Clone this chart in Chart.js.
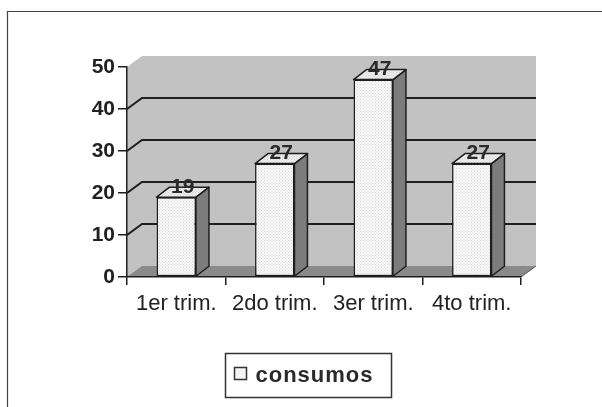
<!DOCTYPE html>
<html>
<head>
<meta charset="utf-8">
<script src="https://cdn.jsdelivr.net/npm/chart.js@4.4.1/dist/chart.umd.min.js"></script>
<style>
  html, body { margin: 0; padding: 0; background: #fff; }
  #wrap { width: 602px; height: 407px; }
</style>
</head>
<body>
<div id="wrap"><canvas id="chart" width="602" height="407"></canvas></div>
<script>
// --- Data ---
const categories = ['1er trim.', '2do trim.', '3er trim.', '4to trim.'];
const consumos = [19, 27, 47, 27];
const seriesName = 'consumos';
const yMin = 0;
const yMax = 50;
const yStep = 10;

// --- 3D look ---
const WALL_DX = 15, WALL_DY = -11;   // depth of back wall
const BAR_DX = 13, BAR_DY = -10;     // depth of each bar
const INK = '#1e1e1e';
const FONT = '"Liberation Sans", Arial, sans-serif';

// dotted fill like the original print
function dotPattern(bg, dot) {
    const c = document.createElement('canvas');
    c.width = 3; c.height = 3;
    const g = c.getContext('2d');
    g.fillStyle = bg;
    g.fillRect(0, 0, 3, 3);
    g.fillStyle = dot;
    g.fillRect(0, 0, 1, 1);
    g.fillRect(1.5, 1.5, 1, 1);
    return g.createPattern(c, 'repeat');
}
const ctxMain = document.getElementById('chart').getContext('2d');
const barFront = dotPattern('#f8f8f8', '#d8d8d8');
const barTop = dotPattern('#eeeeee', '#d0d0d0');

function poly(ctx, pts, fill, stroke, lw) {
    ctx.beginPath();
    ctx.moveTo(pts[0][0], pts[0][1]);
    for (let i = 1; i < pts.length; i++) ctx.lineTo(pts[i][0], pts[i][1]);
    ctx.closePath();
    if (fill) { ctx.fillStyle = fill; ctx.fill(); }
    if (stroke) { ctx.strokeStyle = stroke; ctx.lineWidth = lw || 1; ctx.stroke(); }
}

const walls = {
    id: 'walls',
    beforeDraw(chart) {
        const { ctx, chartArea: a } = chart;
        const y = chart.scales.y;
        const L = a.left, R = a.right, T = a.top, B = a.bottom;

        ctx.save();
        // outer frame of the picture
        ctx.strokeStyle = '#444';
        ctx.lineWidth = 1.2;
        ctx.beginPath();
        ctx.moveTo(7.5, 420);
        ctx.lineTo(7.5, 11.5);
        ctx.lineTo(620, 11.5);
        ctx.stroke();

        // side + back wall
        poly(ctx, [[L, T], [L + WALL_DX, T + WALL_DY], [R + WALL_DX, T + WALL_DY],
                   [R + WALL_DX, B + WALL_DY], [L, B]], '#c2c2c2');
        // floor
        poly(ctx, [[L, B], [L + WALL_DX, B + WALL_DY], [R + WALL_DX, B + WALL_DY], [R, B]], '#8a8a8a');
        ctx.strokeStyle = '#555';
        ctx.lineWidth = 1;
        ctx.beginPath();
        ctx.moveTo(R, B);
        ctx.lineTo(R + WALL_DX, B + WALL_DY);
        ctx.stroke();

        // gridlines on the walls
        ctx.strokeStyle = INK;
        ctx.lineWidth = 2;
        for (let v = yMin + yStep; v < yMax; v += yStep) {
            const py = y.getPixelForValue(v);
            ctx.beginPath();
            ctx.moveTo(L, py);
            ctx.lineTo(L + WALL_DX, py + WALL_DY);
            ctx.lineTo(R + WALL_DX, py + WALL_DY);
            ctx.stroke();
        }
        ctx.restore();
    },
    afterDatasetsDraw(chart) {
        const { ctx } = chart;
        const meta = chart.getDatasetMeta(0);
        ctx.save();
        ctx.lineJoin = 'round';
        meta.data.forEach((bar, i) => {
            const p = bar.getProps(['x', 'y', 'base', 'width'], true);
            const l = p.x - p.width / 2, r = p.x + p.width / 2;
            // right side
            poly(ctx, [[r, p.y], [r + BAR_DX, p.y + BAR_DY], [r + BAR_DX, p.base + BAR_DY], [r, p.base]],
                 '#7c7c7c', INK, 1.5);
            // top
            poly(ctx, [[l, p.y], [l + BAR_DX, p.y + BAR_DY], [r + BAR_DX, p.y + BAR_DY], [r, p.y]],
                 barTop, INK, 1.5);
            // value label
            ctx.fillStyle = '#2a2a2a';
            ctx.font = 'bold 21px ' + FONT;
            ctx.textAlign = 'center';
            ctx.textBaseline = 'middle';
            ctx.fillText(String(chart.data.datasets[0].data[i]), p.x + BAR_DX / 2, p.y - 10);
        });
        ctx.restore();
    },
    afterDraw(chart) {
        // legend box
        const { ctx } = chart;
        const label = chart.data.datasets[0].label;
        ctx.save();
        ctx.font = 'bold 22px ' + FONT;
        ctx.letterSpacing = '1px';
        const tw = ctx.measureText(label).width;
        const boxW = tw + 48, boxH = 44;
        const bx = Math.round(308 - boxW / 2) + 0.5, by = 353.5;
        ctx.strokeStyle = '#333';
        ctx.lineWidth = 1.5;
        ctx.strokeRect(bx, by, boxW, boxH);
        ctx.fillStyle = '#f4f4f4';
        ctx.fillRect(bx + 9, by + 14, 12, 12);
        ctx.strokeRect(bx + 9, by + 14, 12, 12);
        ctx.fillStyle = '#2a2a2a';
        ctx.textBaseline = 'middle';
        ctx.textAlign = 'left';
        ctx.fillText(label, bx + 30, by + 22);
        ctx.restore();
    }
};

new Chart(ctxMain, {
    type: 'bar',
    data: {
        labels: categories,
        datasets: [{
            label: seriesName,
            data: consumos,
            backgroundColor: barFront,
            borderColor: INK,
            borderWidth: 1.5,
            borderSkipped: false,
            barPercentage: 0.4,
            categoryPercentage: 1.0
        }]
    },
    options: {
        responsive: false,
        animation: false,
        layout: { padding: { left: 0, top: 67, right: 81, bottom: 80 } },
        plugins: {
            legend: { display: false },
            tooltip: { enabled: false }
        },
        scales: {
            x: {
                afterFit: s => { s.height = 50; },
                grid: { drawOnChartArea: false, drawTicks: true, tickLength: 8, color: INK, lineWidth: 1.5, offset: true },
                border: { display: true, color: INK, width: 1.5 },
                ticks: {
                    color: '#222',
                    padding: 6,
                    font: { family: FONT, size: 22 }
                }
            },
            y: {
                min: yMin,
                max: yMax,
                afterFit: s => { s.width = 127; },
                grid: { drawOnChartArea: false, drawTicks: true, tickLength: 9, color: INK, lineWidth: 1.5 },
                border: { display: true, color: INK, width: 1.5 },
                ticks: {
                    stepSize: yStep,
                    color: '#222',
                    padding: 3,
                    font: { family: FONT, size: 21, weight: 'bold' }
                }
            }
        }
    },
    plugins: [walls]
});
</script>
</body>
</html>
